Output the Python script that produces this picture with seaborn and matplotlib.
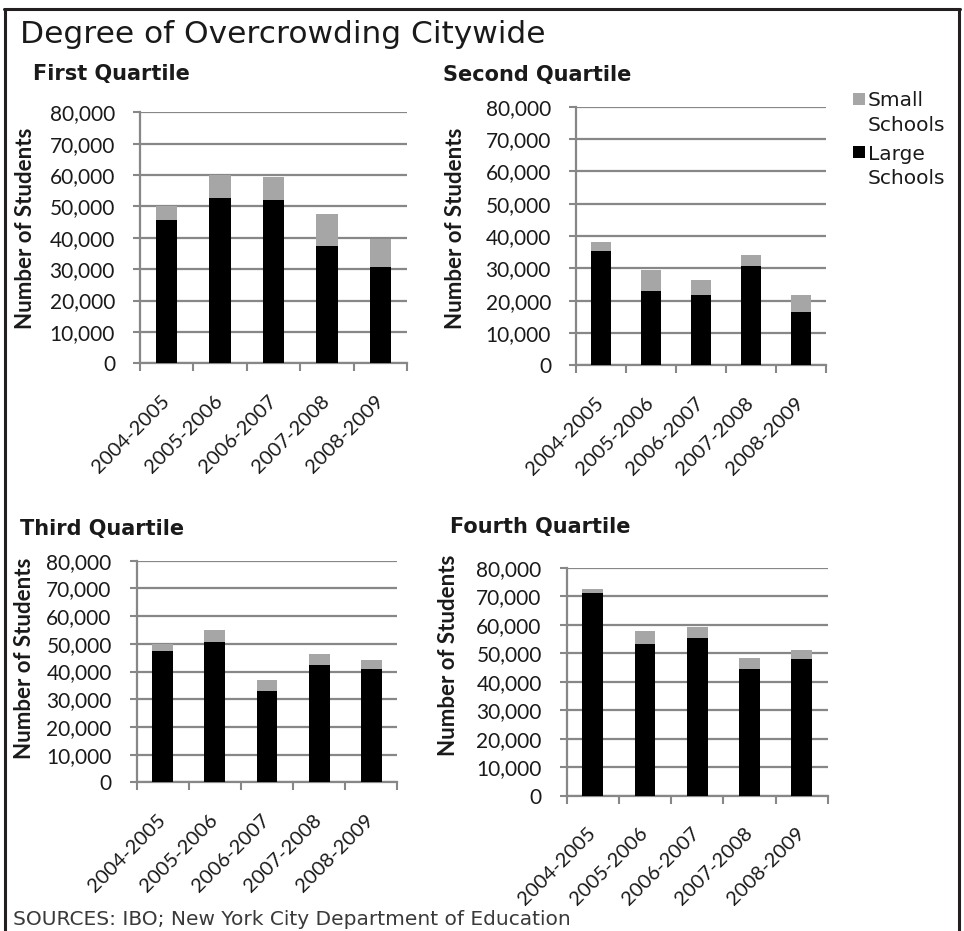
import matplotlib
matplotlib.use("Agg")
import matplotlib.pyplot as plt
import seaborn as sns
import pandas as pd
from matplotlib.patches import Rectangle
from matplotlib.lines import Line2D
from matplotlib.ticker import FuncFormatter, FixedLocator

# ---- data -------------------------------------------------------------
seasons = ["2004-2005", "2005-2006", "2006-2007", "2007-2008", "2008-2009"]
quartiles = ["First Quartile", "Second Quartile", "Third Quartile", "Fourth Quartile"]

large_first = [45600, 52700, 51900, 37500, 30700]
small_first = [4400, 7400, 7400, 10000, 9000]

large_second = [35500, 23100, 21800, 30700, 16400]
small_second = [2500, 6300, 4600, 3400, 5500]

large_third = [47500, 50800, 33000, 42300, 41000]
small_third = [2300, 4100, 3800, 3900, 3300]

large_fourth = [71100, 53300, 55300, 44300, 48000]
small_fourth = [1400, 4400, 3800, 4000, 3000]

y_ticks = [0, 10000, 20000, 30000, 40000, 50000, 60000, 70000, 80000]
legend_labels = [("Small", "Schools"), ("Large", "Schools")]

title = "Degree of Overcrowding Citywide"
y_label = "Number of Students"
source = "SOURCES: IBO; New York City Department of Education"

# ---- style ------------------------------------------------------------
SMALL_COLOR = "#a6a6a6"
LARGE_COLOR = "#000000"
GRID_COLOR = "#878787"
TEXT_COLOR = "#1a1a1a"
BORDER_COLOR = "#231f20"
WIDE_FONT = ["DejaVu Sans"]

sns.set_theme(style="white")
plt.rcParams["font.family"] = ["Lato", "DejaVu Sans"]

W, H = 964, 931
fig = plt.figure(figsize=(W / 100, H / 100), dpi=100)


def fx(x):
    return x / W


def fy(y):
    return 1 - y / H


def rect(x0, y0, x1, y1):
    """Axes rectangle from pixel corners (top-left origin)."""
    return [fx(x0), fy(y1), (x1 - x0) / W, (y1 - y0) / H]


panels = [
    dict(name=quartiles[0], large=large_first, small=small_first,
         box=rect(140, 112.3, 407, 363.3), head=(33, 80), ylab=(25.5, 228)),
    dict(name=quartiles[1], large=large_second, small=small_second,
         box=rect(576, 106.7, 826, 365.3), head=(443, 81), ylab=(455, 228)),
    dict(name=quartiles[2], large=large_third, small=small_third,
         box=rect(136.7, 560.7, 397.3, 782.3), head=(20, 535), ylab=(24.5, 658)),
    dict(name=quartiles[3], large=large_fourth, small=small_fourth,
         box=rect(566.7, 567.7, 827.7, 795.7), head=(450, 533), ylab=(448.5, 655)),
]

for p in panels:
    ax = fig.add_axes(p["box"])
    df = pd.DataFrame({"season": seasons, "large": p["large"], "small": p["small"]})
    df["total"] = df["large"] + df["small"]

    # stacked bars: full height in grey, large-school share drawn over it in black
    sns.barplot(data=df, x="season", y="total", color=SMALL_COLOR, saturation=1,
                width=0.4, linewidth=0, ax=ax, zorder=3)
    sns.barplot(data=df, x="season", y="large", color=LARGE_COLOR, saturation=1,
                width=0.4, linewidth=0, ax=ax, zorder=4)

    ax.set_xlim(-0.5, len(seasons) - 0.5)
    ax.set_ylim(0, 80000)
    ax.set_xlabel("")
    ax.set_ylabel("")

    ax.set_yticks(y_ticks)
    ax.yaxis.set_major_formatter(FuncFormatter(lambda v, _: f"{v:,.0f}"))
    ax.yaxis.grid(True, color=GRID_COLOR, linewidth=1.6, zorder=0)
    ax.xaxis.grid(False)
    ax.set_axisbelow(True)

    ax.set_xticks(range(len(seasons)))
    ax.set_xticklabels(seasons, rotation=45, ha="right", va="center",
                       rotation_mode="anchor")
    ax.xaxis.set_minor_locator(FixedLocator([i - 0.5 for i in range(len(seasons) + 1)]))

    ax.tick_params(axis="y", which="major", left=True, length=5, width=1.5,
                   color=GRID_COLOR, pad=13, labelsize=15, labelcolor=TEXT_COLOR)
    ax.tick_params(axis="x", which="major", bottom=True, length=0, pad=25,
                   labelsize=14.5, labelcolor=TEXT_COLOR)
    ax.tick_params(axis="x", which="minor", bottom=True, length=6, width=1.5,
                   color=GRID_COLOR, direction="out")

    for side in ("top", "right"):
        ax.spines[side].set_visible(False)
    for side in ("left", "bottom"):
        ax.spines[side].set_visible(True)
        ax.spines[side].set_color(GRID_COLOR)
        ax.spines[side].set_linewidth(1.6)

    hx, hy = p["head"]
    fig.text(fx(hx), fy(hy), p["name"], fontsize=15, fontweight="bold",
             family=WIDE_FONT, color=TEXT_COLOR, ha="left", va="baseline")
    lx, ly = p["ylab"]
    fig.text(fx(lx), fy(ly), y_label, fontsize=16, fontweight="bold",
             color=TEXT_COLOR, rotation=90, ha="center", va="center")

# ---- title, source ----------------------------------------------------
fig.text(fx(20), fy(43), title, fontsize=22.5, family=WIDE_FONT,
         color=TEXT_COLOR, ha="left", va="baseline")
fig.text(fx(13), fy(925), source, fontsize=14.5, family=WIDE_FONT,
         color="#3a3a3a", ha="left", va="baseline")

# ---- legend -----------------------------------------------------------
legend_items = [
    (SMALL_COLOR, legend_labels[0], 93, (105.7, 130.7)),
    (LARGE_COLOR, legend_labels[1], 146, (160, 184)),
]
for color, (line1, line2), top, (b1, b2) in legend_items:
    fig.add_artist(Rectangle((fx(853), fy(top + 12)), 12 / W, 12 / H,
                             transform=fig.transFigure, facecolor=color,
                             edgecolor="none"))
    fig.text(fx(868), fy(b1), line1, fontsize=14.5, family=WIDE_FONT,
             color=TEXT_COLOR, ha="left", va="baseline")
    fig.text(fx(868), fy(b2), line2, fontsize=14.5, family=WIDE_FONT,
             color=TEXT_COLOR, ha="left", va="baseline")

# ---- frame (left, top, right) -----------------------------------------
frame_kw = dict(transform=fig.transFigure, color=BORDER_COLOR, linewidth=2.2)
fig.add_artist(Line2D([fx(5), fx(5)], [fy(9), fy(931)], **frame_kw))
fig.add_artist(Line2D([fx(4), fx(960)], [fy(9), fy(9)], **frame_kw))
fig.add_artist(Line2D([fx(959), fx(959)], [fy(9), fy(931)], **frame_kw))

fig.savefig("out.png", dpi=100)
